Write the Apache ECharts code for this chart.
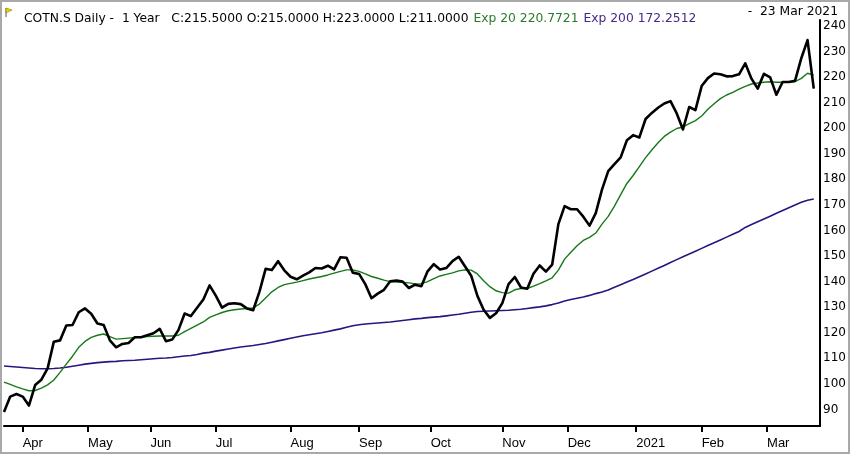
<!DOCTYPE html>
<html>
<head>
<meta charset="utf-8">
<script src="https://cdn.jsdelivr.net/npm/echarts@6/dist/echarts.min.js"></script>
<style>
html,body{margin:0;padding:0;background:#fff;}
#chart{width:850px;height:454px;}
</style>
</head>
<body>
<div id="chart"></div>
<script>
// ---- data (one value every 2 trading days, 23 Mar 2020 -> 23 Mar 2021) ----
const price = [
 89,95,96,95,91.5,99.5,101.6,106,116.5,117,122.8,123,128,129.5,127.4,123.6,123,117,114.3,115.6,
 116,118.2,118.2,119,119.8,121.5,116.7,117.3,121,127.5,126.5,129.8,133,138.5,134.5,129.8,131.3,131.5,131.2,129.5,
 128.8,136,145,144.5,148,144.4,141.9,140.9,142.3,143.6,145.3,145.1,146.2,144.8,149.5,149.3,143.5,143,139,133.5,
 135.3,136.8,140.1,140.4,140,137.5,138.8,138.2,144,146.8,144.7,145.3,148,149.7,146,142.3,134.4,129,125.8,127.6,
 131.6,139,141.8,137.7,137.2,143.1,146.3,143.9,146.6,162.5,169.5,168.3,168.3,165.4,161.9,166.8,176,183.2,186,188.6,
 195.3,197.3,196.4,203.6,206,208,209.7,210.6,205.8,199.5,208.3,207.1,216.5,219.6,221.4,221.1,220.3,220.4,221.1,225.4,
 219.4,215.5,221.3,219.9,213.1,218.1,218.1,218.6,227.4,234.5,215.5
];
const exp20 = [
 100.7,99.8,98.8,98,97.3,97.4,98.3,99.6,101.5,104.5,107.7,110.8,114.3,116.6,118.2,119,119.5,118.5,117.5,117.7,
 117.9,118.1,118.3,118.5,118.6,118.7,118.7,118.7,119,120.4,121.7,123,124.2,126,127,127.9,128.6,129,129.3,129.5,
 129.7,131.2,133.6,136,137.7,138.8,139.3,139.8,140.4,141,141.5,142,142.6,143.3,144,144.6,144.6,144,143,142,
 141.3,140.6,140,139.8,139.7,139.5,139.1,139.2,140,141.2,142.2,142.8,143.4,144.2,144.6,144.5,143,140.3,138,136.4,
 135.7,135.5,136.8,137.3,137.3,138.2,139.2,140.3,141.5,144.5,148.8,151.5,154,156.1,157.3,159,162.5,165.5,169.5,174,
 178.4,181.5,185,188.5,191.5,194.3,196.8,198.5,199.9,200.5,201.8,203,204.8,207.4,209.6,211.6,213,214,215.3,216.4,
 217.3,217.7,218,218.2,218,218,218,218.2,219.5,221.5,220.8
];
const exp200 = [
 107,106.8,106.6,106.4,106.2,106,105.9,105.9,106,106.2,106.5,106.9,107.3,107.7,108,108.3,108.5,108.7,108.8,109,
 109.1,109.2,109.4,109.6,109.8,110,110.1,110.3,110.6,110.9,111.1,111.5,112,112.3,112.8,113.2,113.6,114,114.4,114.7,
 115,115.4,115.8,116.3,116.8,117.3,117.8,118.3,118.8,119.2,119.6,120,120.5,121,121.5,122.1,122.7,123.1,123.4,123.6,
 123.8,124,124.2,124.5,124.8,125.1,125.4,125.6,125.9,126.1,126.3,126.6,126.9,127.2,127.6,128,128.3,128.4,128.5,128.6,
 128.7,128.8,129,129.2,129.5,129.8,130.1,130.5,131,131.6,132.4,133,133.5,134,134.6,135.3,135.9,136.7,137.8,138.8,
 139.8,140.8,141.9,143,144.1,145.2,146.3,147.5,148.6,149.7,150.8,151.9,153,154.1,155.2,156.3,157.4,158.5,159.6,161.2,
 162.3,163.4,164.5,165.6,166.7,167.8,168.9,170,171,171.8,172.3
];
// trading-day slots on the x axis, month starts and their labels
const slotCount = 263;
const monthSlots  = [6, 27, 47, 68, 92, 114, 137, 160, 181, 203, 224, 245];
const monthLabels = ['Apr','May','Jun','Jul','Aug','Sep','Oct','Nov','Dec','2021','Feb','Mar'];
const yTicks = [90,100,110,120,130,140,150,160,170,180,190,200,210,220,230,240];
const headerMain = 'COTN.S Daily -  1 Year   C:215.5000 O:215.0000 H:223.0000 L:211.0000';
const headerExp20 = 'Exp 20 220.7721';
const headerExp200 = 'Exp 200 172.2512';
const headerDate = '-  23 Mar 2021';

// ---- build ----
const categories = [];
for (let k = 0; k < slotCount; k++) categories.push(String(k));
function toSlots(arr) {
  const out = new Array(slotCount).fill(null);
  arr.forEach((v, i) => { out[2 * i] = v; });
  return out;
}
const monthMap = {};
monthSlots.forEach((s, i) => { monthMap[s] = monthLabels[i]; });

const chart = echarts.init(document.getElementById('chart'), null, {renderer: 'canvas'});
chart.setOption({
  animation: false,
  backgroundColor: '#ffffff',
  title: {
    text: '{a|' + headerMain + '} {g|' + headerExp20 + '} {p|' + headerExp200 + '}',
    left: 19, top: 5,
    textStyle: {
      fontWeight: 'normal',
      rich: {
        a: {fontFamily: 'DejaVu Sans', fontSize: 12.3, fontWeight: 'normal', color: '#000000'},
        g: {fontFamily: 'DejaVu Sans', fontSize: 12.3, fontWeight: 'normal', color: '#2a7a2a'},
        p: {fontFamily: 'DejaVu Sans', fontSize: 12.3, fontWeight: 'normal', color: '#45288a'}
      }
    }
  },
  graphic: [
    {type: 'rect', shape: {x: 1, y: 1, width: 848, height: 452},
     style: {fill: 'none', stroke: '#a9a9a9', lineWidth: 2}, silent: true},
    {type: 'line', shape: {x1: 6, y1: 8, x2: 6, y2: 17}, style: {stroke: '#555', lineWidth: 1}},
    {type: 'polygon', shape: {points: [[6, 8], [12, 10], [6, 13]]}, style: {fill: '#e6d600', stroke: '#8a7d00', lineWidth: 0.6}},
    {type: 'text', right: 12, top: 6,
     style: {text: headerDate, fontFamily: 'DejaVu Sans', fontSize: 12.3, fill: '#000'}}
  ],
  grid: {left: 4, right: 30, top: 20, bottom: 28, containLabel: false},
  xAxis: {
    type: 'category',
    data: categories,
    boundaryGap: false,
    axisLine: {show: true, lineStyle: {color: '#000', width: 2}},
    axisTick: {show: true, length: 6, lineStyle: {color: '#000', width: 2},
               interval: (idx) => monthMap[idx] !== undefined},
    axisLabel: {show: true, interval: (idx) => monthMap[idx] !== undefined,
                formatter: (v, idx) => monthMap[idx] || '',
                align: 'left', margin: 11, color: '#000',
                fontFamily: 'Liberation Sans', fontSize: 13},
    splitLine: {show: false}
  },
  yAxis: {
    type: 'value',
    position: 'right',
    min: 83.5, max: 242.35,
    axisLine: {show: true, lineStyle: {color: '#000', width: 2}},
    axisTick: {show: false},
    axisLabel: {show: true, customValues: yTicks, margin: 3, color: '#000',
                fontFamily: 'DejaVu Sans', fontSize: 12},
    splitLine: {show: false}
  },
  series: [
    {type: 'line', name: 'Exp 200', data: toSlots(exp200), connectNulls: true, showSymbol: false,
     lineStyle: {color: '#2a1580', width: 1.6}, z: 2},
    {type: 'line', name: 'Exp 20', data: toSlots(exp20), connectNulls: true, showSymbol: false,
     lineStyle: {color: '#187818', width: 1.4}, z: 3},
    {type: 'line', name: 'COTN.S', data: toSlots(price), connectNulls: true, showSymbol: false,
     lineStyle: {color: '#000000', width: 2.6, join: 'round'}, z: 4}
  ]
});
</script>
</body>
</html>
